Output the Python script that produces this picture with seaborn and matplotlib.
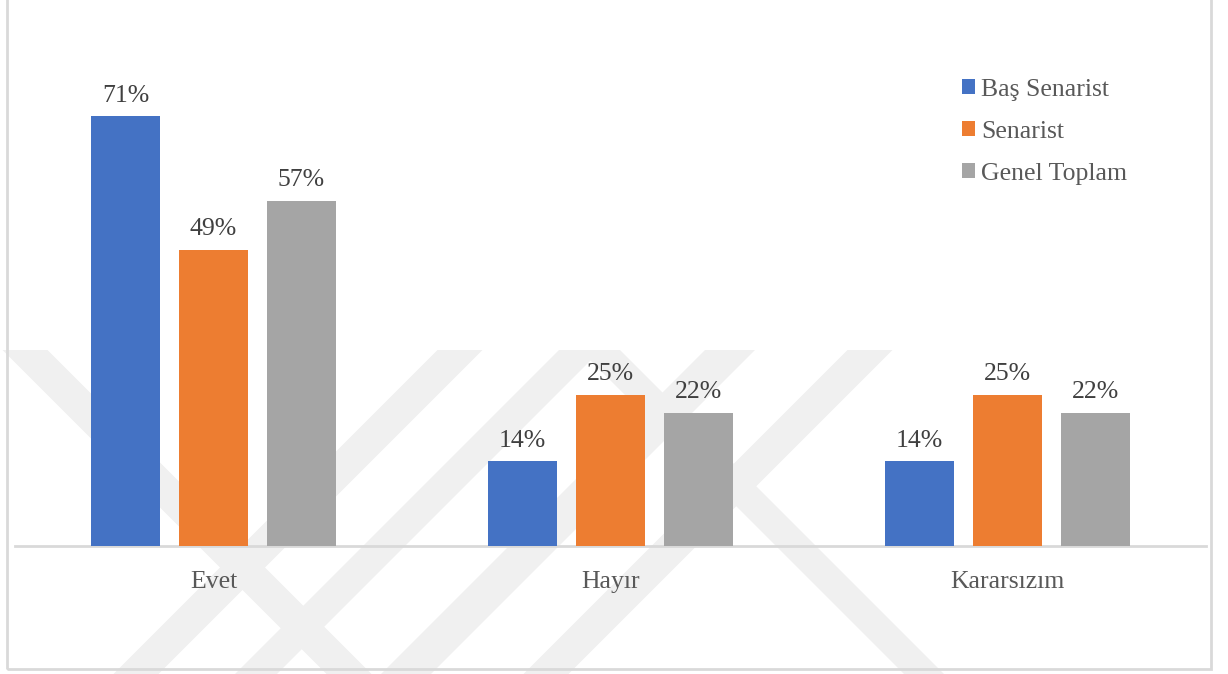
import matplotlib
matplotlib.use("Agg")
import matplotlib.pyplot as plt
from matplotlib.patches import Polygon, Rectangle
import pandas as pd
import seaborn as sns

# Survey answers by writer role (percent of respondents)
categories = ["Evet", "Hayır", "Kararsızım"]
series_names = ["Baş Senarist", "Senarist", "Genel Toplam"]
bas_senarist = [71, 14, 14]
senarist = [49, 25, 25]
genel_toplam = [57, 22, 22]

colors = ["#4472C4", "#ED7D31", "#A5A5A5"]
text_color = "#595959"
value_color = "#404040"

rows = []
for name, vals in zip(series_names, [bas_senarist, senarist, genel_toplam]):
    for cat, v in zip(categories, vals):
        rows.append({"kategori": cat, "grup": name, "yuzde": v})
df = pd.DataFrame(rows)

sns.set_theme(style="white")
plt.rcParams["font.family"] = ["Liberation Serif", "DejaVu Serif"]

W, H = 1228, 674
fig = plt.figure(figsize=(W / 100, H / 100), dpi=100)
fig.patch.set_facecolor("white")

# faint diagonal background bands (pixel coordinates, y measured from top)
def band(x_top, slope, width, y0=350, y1=674):
    pts = [
        (x_top - width / 2, y0),
        (x_top + width / 2, y0),
        (x_top + width / 2 + slope * (y1 - y0), y1),
        (x_top - width / 2 + slope * (y1 - y0), y1),
    ]
    return Polygon([(x, H - y) for x, y in pts], closed=True, transform=None,
                   facecolor="#f0f0f0", edgecolor="none", zorder=-5)

for xt, s, w in [(25, 1.0, 45), (600, 1.0, 40),
                 (460, -1.0, 45), (580, -1.0, 42), (730, -1.0, 50), (870, -1.0, 45)]:
    fig.patches.append(band(xt, s, w))

# chart frame
fig.patches.append(Rectangle((7, H - 669), 1211 - 7, 700, transform=None,
                             fill=False, edgecolor="#d9d9d9", linewidth=2, zorder=-4))

ax = fig.add_axes([15 / W, (H - 546) / H, (1206 - 15) / W, (546 - 62) / H])
ax.set_facecolor("none")
ax.set_zorder(2)

sns.barplot(data=df, x="kategori", y="yuzde", hue="grup", order=categories,
            hue_order=series_names, palette=colors, width=0.665, gap=0.216,
            linewidth=0, saturation=1, ax=ax, zorder=3)

for cont in ax.containers:
    ax.bar_label(cont, labels=[f"{int(round(b.get_height()))}%" for b in cont],
                 padding=7, fontsize=18.5, color=value_color)

ax.set_xlim(-0.5, 2.5)
ax.set_ylim(0, 80)
ax.set_xlabel("")
ax.set_ylabel("")
ax.set_yticks([])
for side in ["top", "right", "left"]:
    ax.spines[side].set_visible(False)
ax.spines["bottom"].set_color("#d9d9d9")
ax.spines["bottom"].set_linewidth(2)
ax.tick_params(axis="x", length=0, pad=18, labelsize=18.5, labelcolor=text_color)

handles, labels = ax.get_legend_handles_labels()
ax.legend(handles, labels, loc="upper left",
          bbox_to_anchor=(962 / W, 1 - 79 / H), bbox_transform=fig.transFigure,
          frameon=False, fontsize=18.5, labelcolor=text_color,
          handlelength=0.52, handleheight=0.52, handletextpad=0.22,
          labelspacing=0.78, borderpad=0, borderaxespad=0)

fig.savefig("out.png", dpi=100, facecolor="white")
